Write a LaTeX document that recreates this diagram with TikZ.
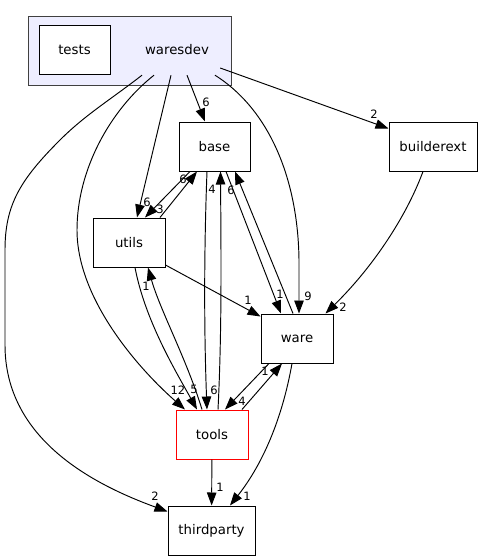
\documentclass[tikz,border=0pt]{standalone}
\usepackage{fontspec}
\setmainfont{DejaVu Sans}
\usetikzlibrary{arrows.meta,calc}
\definecolor{clusterfill}{RGB}{238,238,255}
\tikzset{
  dir box/.style={
    draw=black,
    fill=white,
    line width=1pt,
    minimum width={#1},
    minimum height=49,
    inner sep=0pt,
    font=\fontsize{13.3}{15}\selectfont,
  },
  dep/.style={
    draw=black,
    line width=0.95pt,
    -{Triangle[length=13,width=9.5]},
  },
  count/.style={
    inner sep=0pt,
    font=\fontsize{11.5}{13}\selectfont,
  }
}

\begin{document}
\begin{tikzpicture}[x=1pt,y=-1pt]
        \useasboundingbox (0,0) rectangle (483,560);

        % directories
        \node [draw=black!75, fill=clusterfill, line width=1pt, minimum width=203, minimum height=69] (cluster) at (129.5,50.5) {};
        \node [dir box=71] (tests) at (74.5,50) {tests};
        \node [minimum width=90, minimum height=50, inner sep=0pt, font=\fontsize{13.3}{15}\selectfont] (waresdev) at (177,50) {waresdev};
        \node [dir box=71] (base) at (214.5,146.5) {base};
        \node [dir box=88] (builderext) at (433,146.5) {builderext};
        \node [dir box=72] (utils) at (129,242.5) {utils};
        \node [dir box=72] (ware) at (297,338.5) {ware};
        \node [dir box=72, draw=red] (tools) at (212,434.5) {tools};
        \node [dir box=87] (thirdparty) at (211.5,530.5) {thirdparty};

        % dependencies of waresdev
        \draw [dep] ($(waresdev.south)+(-35,0)$) .. controls (110,100) and (85,115) .. (60,140)
          .. controls (20,180) and (5,205) .. (5,250) -- (5,345)
          .. controls (5,440) and (95,485) .. ($(thirdparty.north west)+(0,6)$);
        \draw [dep] ($(waresdev.south)+(-23,0)$) .. controls (110,110) and (77,170) .. (77,230)
          .. controls (77,300) and (140,370) .. ($(tools.north)+(-27,0)$);
        \draw [dep] ($(waresdev.south)+(-6,0)$) -- ($(utils.north)+(8,0)$);
        \draw [dep] ($(waresdev.south)+(10,0)$) -- ($(base.north)+(-9.5,0)$);
        \draw [dep] ($(waresdev.south)+(38,0)$) .. controls (270,110) and (298,180) .. (299,260)
          -- ($(ware.north)+(2,0)$);
        \draw [dep] ($(waresdev.east)+(-2,18)$) -- ($(builderext.west)+(0,-18)$);

        % base and utils
        \draw [dep] ($(base.south)+(-24.5,0)$) -- ($(utils.north)+(16,0)$);
        \draw [dep] ($(utils.north)+(31,0)$) -- ($(base.south)+(-17.5,0)$);
        \draw [dep] ($(base.south)+(-7.5,0)$) .. controls (204,250) and (204,330) .. ($(tools.north)+(-5,0)$);
        \draw [dep] ($(tools.north)+(6,0)$) .. controls (222,330) and (221,250) .. ($(base.south)+(6,0)$);
        \draw [dep] ($(base.south)+(11.5,0)$) -- ($(ware.north)+(-16,0)$);
        \draw [dep] ($(ware.north)+(-4,0)$) -- ($(base.south)+(20.5,0)$);
        \draw [dep] ($(utils.east)+(0,22.5)$) -- ($(ware.west)+(0,-22)$);
        \draw [dep] ($(utils.south)+(6,0)$) .. controls (145,320) and (175,370) .. ($(tools.north)+(-15,0)$);
        \draw [dep] ($(tools.north)+(-10,0)$) .. controls (187,360) and (160,310) .. ($(utils.south)+(19,0)$);

        % ware, tools and builderext
        \draw [dep] ($(ware.south)+(-28,0)$) -- ($(tools.north)+(13,0)$);
        \draw [dep] ($(tools.north)+(30,0)$) -- ($(ware.south)+(-15,0)$);
        \draw [dep] ($(ware.south)+(-5,0)$) .. controls (282,420) and (262,465) .. ($(thirdparty.north)+(18.5,0)$);
        \draw [dep] (tools) -- (thirdparty);
        \draw [dep] ($(builderext.south)+(-10,0)$) .. controls (405,220) and (370,270) .. ($(ware.north east)+(-8,0)$);

        % counts
        \node [count] (c-wd-base) at (206,102) {6};
        \node [count] (c-wd-builderext) at (374,114) {2};
        \node [count] (c-utils-base) at (183,179) {6};
        \node [count] (c-base-tools) at (212,189) {4};
        \node [count] (c-ware-base) at (231,190) {6};
        \node [count] (c-wd-utils) at (147,202) {6};
        \node [count] (c-base-utils) at (160,209) {3};
        \node [count] (c-tools-utils) at (146,286) {1};
        \node [count] (c-base-ware) at (280,294) {1};
        \node [count] (c-wd-ware) at (308,296) {9};
        \node [count] (c-utils-ware) at (248,300) {1};
        \node [count] (c-builderext-ware) at (343,307) {2};
        \node [count] (c-tools-ware) at (265,371) {1};
        \node [count] (c-wd-tools) at (178,390) {12};
        \node [count] (c-utils-tools) at (194,389) {5};
        \node [count] (c-base-tools2) at (214,390) {6};
        \node [count] (c-ware-tools) at (242,401) {4};
        \node [count] (c-tools-thirdparty) at (220,487) {1};
        \node [count] (c-wd-thirdparty) at (155,496) {2};
        \node [count] (c-ware-thirdparty) at (247,496) {1};
      \end{tikzpicture}
\end{document}
